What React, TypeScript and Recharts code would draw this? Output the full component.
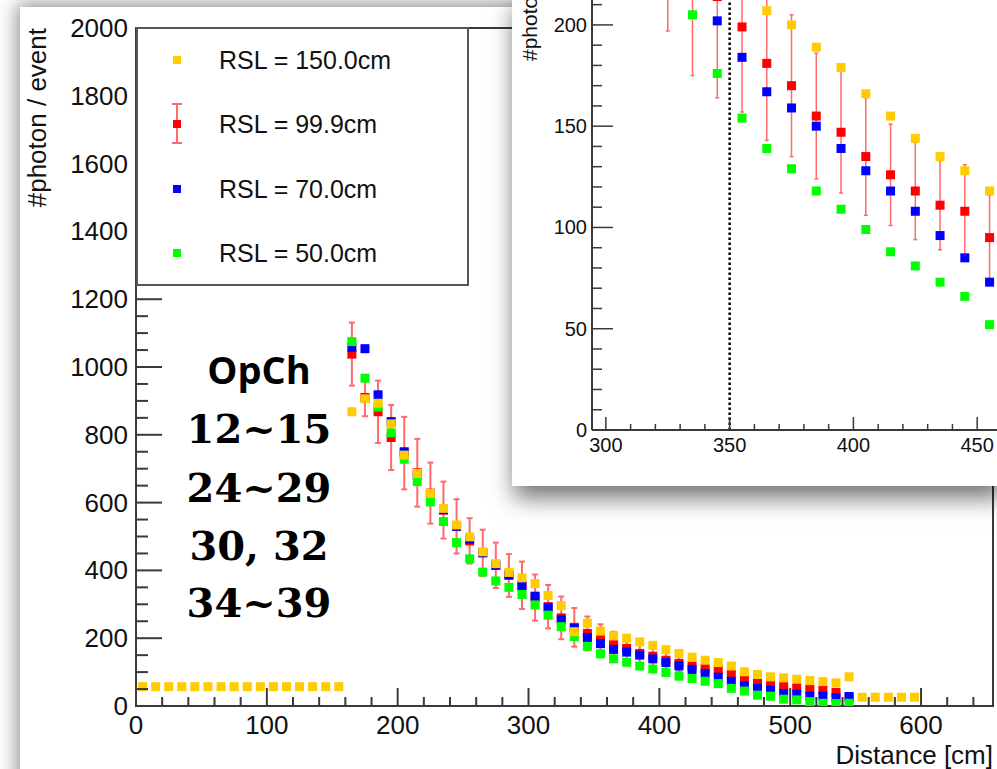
import React from 'react';
import { ScatterChart, Scatter, XAxis, YAxis, ErrorBar, ReferenceLine, ReferenceArea } from 'recharts';

// bin centres [cm] where all four RSL curves are filled
const distances = [165, 175, 185, 195, 205, 215, 225, 235, 245, 255, 265, 275, 285, 295, 305, 315, 325, 335, 345, 355,
  365, 375, 385, 395, 405, 415, 425, 435, 445, 455, 465, 475, 485, 495, 505, 515, 525, 535, 545];

const rsl150 = [868, 906, 893, 832, 740, 686, 627, 583, 534, 499, 455, 420, 394, 378, 361, 326, 296, 219, 244, 221,
  207, 200, 189, 179, 166, 155, 144, 135, 128, 118, 101, 93, 86, 83, 79, 75, 72, 68, 86];
const rsl100 = [1038, 910, 868, 792, 746, 688, 628, 578, 530, 487, 452, 415, 385, 356, 320, 293, 260, 232, 214, 199,
  181, 170, 155, 147, 135, 126, 118, 111, 108, 95, 81, 74, 67, 59, 54, 50, 47, 40, 24];
const rsl100Err = [93, 55, 92, 96, 107, 100, 90, 84, 80, 67, 68, 67, 63, 70, 68, 64, 63, 57, 50, 42,
  38, 35, 31, 30, 29, 25, 24, 22, 23, 21, 18, 16, 15, 14, 13, 12, 11, 10, 9];
const rsl70 = [1058, 1054, 918, 839, 750, 684, 624, 579, 530, 492, 452, 415, 388, 354, 324, 291, 254, 229, 202, 184,
  167, 159, 150, 139, 128, 118, 108, 96, 85, 73, 59, 52, 47, 37, 35, 29, 29, 24, 28];
const rsl50 = [1075, 967, 882, 806, 728, 662, 602, 544, 482, 434, 395, 369, 350, 329, 298, 268, 234, 205, 176, 154,
  139, 129, 118, 109, 99, 88, 81, 73, 66, 52, 44, 32, 29, 20, 18, 13, 8, 7, 8];

// extra RSL=150cm bins outside the main range
const rsl150NearX = [5, 15, 25, 35, 45, 55, 65, 75, 85, 95, 105, 115, 125, 135, 145, 155];
const rsl150Near = [57, 57, 57, 57, 57, 57, 57, 57, 57, 57, 57, 57, 57, 57, 57, 57];
const rsl150FarX = [555, 565, 575, 585, 595];
const rsl150Far = [26, 26, 26, 26, 26];

const mainXTicks = [0, 20, 40, 60, 80, 100, 120, 140, 160, 180, 200, 220, 240, 260, 280, 300, 320, 340, 360, 380,
  400, 420, 440, 460, 480, 500, 520, 540, 560, 580, 600, 620, 640];
const mainYTicks = [0, 50, 100, 150, 200, 250, 300, 350, 400, 450, 500, 550, 600, 650, 700, 750, 800, 850, 900, 950,
  1000, 1050, 1100, 1150, 1200, 1250, 1300, 1350, 1400, 1450, 1500, 1550, 1600, 1650, 1700, 1750, 1800, 1850, 1900, 1950, 2000];
const insetXTicks = [300, 310, 320, 330, 340, 350, 360, 370, 380, 390, 400, 410, 420, 430, 440, 450];
const insetYTicks = [0, 10, 20, 30, 40, 50, 60, 70, 80, 90, 100, 110, 120, 130, 140, 150, 160, 170, 180, 190, 200, 210];

const legendItems = ['RSL = 150.0cm', 'RSL = 99.9cm', 'RSL = 70.0cm', 'RSL = 50.0cm'];
const opchLines = ['12~15', '24~29', '30, 32', '34~39'];

const YELLOW = '#ffcc00';
const RED = '#ff0000';
const BLUE = '#0000ff';
const GREEN = '#00ff00';
const ERR = '#ff6b6b';
const AXIS = '#3a3a3a';
const FONT = '"Liberation Sans", Arial, Helvetica, sans-serif';

const yellowRows = [
  ...rsl150NearX.map((x, i) => ({ x, y: rsl150Near[i] })),
  ...distances.map((x, i) => ({ x, y: rsl150[i] })),
  ...rsl150FarX.map((x, i) => ({ x, y: rsl150Far[i] })),
];
const redRows = distances.map((x, i) => ({ x, y: rsl100[i], err: rsl100Err[i] }));
const blueRows = distances.map((x, i) => ({ x, y: rsl70[i] }));
const greenRows = distances.map((x, i) => ({ x, y: rsl50[i] }));

const square = (color: string, size: number) => (p: any) =>
  <rect x={p.cx - size / 2} y={p.cy - size / 2} width={size} height={size} fill={color} />;

const MainXTick = ({ x, y, payload }: any) => {
  const major = payload.value % 100 === 0;
  return (
    <g>
      <line x1={x} x2={x} y1={y} y2={y - (major ? 18 : 9)} stroke={AXIS} strokeWidth={2} />
      {major && (
        <text x={x} y={y + 28} textAnchor="middle" fontSize={26} fontFamily={FONT} fill="#111">{payload.value}</text>
      )}
    </g>
  );
};

const MainYTick = ({ x, y, payload }: any) => {
  const major = payload.value % 200 === 0;
  return (
    <g>
      <line x1={x} x2={x + (major ? 26 : 12)} y1={y} y2={y} stroke={AXIS} strokeWidth={2} />
      {major && (
        <text x={x - 8} y={y + 9} textAnchor="end" fontSize={26} fontFamily={FONT} fill="#111">{payload.value}</text>
      )}
    </g>
  );
};

const InsetXTick = ({ x, y, payload }: any) => {
  const major = payload.value % 50 === 0;
  return (
    <g>
      <line x1={x} x2={x} y1={y} y2={y - (major ? 13 : 6)} stroke={AXIS} strokeWidth={1.5} />
      {major && (
        <text x={x} y={y + 22} textAnchor="middle" fontSize={20} fontFamily={FONT} fill="#111">{payload.value}</text>
      )}
    </g>
  );
};

const InsetYTick = ({ x, y, payload }: any) => {
  const major = payload.value % 50 === 0;
  return (
    <g>
      <line x1={x} x2={x + (major ? 21 : 10)} y1={y} y2={y} stroke={AXIS} strokeWidth={1.5} />
      {major && (
        <text x={x - 5} y={y + 7} textAnchor="end" fontSize={20} fontFamily={FONT} fill="#111">{payload.value}</text>
      )}
    </g>
  );
};

const Legend = () => (
  <div style={{ position: 'absolute', left: 136, top: 27, width: 333, height: 259, boxSizing: 'border-box',
    border: '2px solid #555', background: '#fff' }}>
    <svg width={329} height={255}>
      {legendItems.map((label, i) => {
        const cy = [31, 95, 160, 224][i];
        const color = [YELLOW, RED, BLUE, GREEN][i];
        return (
          <g key={label}>
            {i === 1 && (
              <g stroke={ERR} strokeWidth={2}>
                <line x1={39} x2={39} y1={cy - 20} y2={cy + 19} />
                <line x1={34} x2={44} y1={cy - 20} y2={cy - 20} />
                <line x1={34} x2={44} y1={cy + 19} y2={cy + 19} />
              </g>
            )}
            <rect x={35} y={cy - 4} width={8} height={8} fill={color} />
            <text x={81} y={cy + 9} fontSize={25} fontFamily={FONT} fill="#111">{label}</text>
          </g>
        );
      })}
    </svg>
  </div>
);

const MainChart = () => (
  <div style={{ position: 'absolute', left: 0, top: 0 }}>
    <ScatterChart width={997} height={769} margin={{ top: 28, right: 4, bottom: 23, left: 76 }}>
      <XAxis type="number" dataKey="x" domain={[0, 655]} ticks={mainXTicks} interval={0} allowDataOverflow
        height={40} tickSize={0} tickMargin={0} tick={<MainXTick />} axisLine={{ stroke: AXIS, strokeWidth: 2 }} />
      <YAxis type="number" dataKey="y" domain={[0, 2000]} ticks={mainYTicks} interval={0} allowDataOverflow
        width={60} tickSize={0} tickMargin={0} tick={<MainYTick />} axisLine={{ stroke: AXIS, strokeWidth: 2 }} />
      <ReferenceArea x1={0} x2={655} y1={0} y2={2000} fill="none" stroke={AXIS} strokeWidth={2} ifOverflow="visible" />
      <Scatter data={redRows} shape={square(RED, 9)} isAnimationActive={false}>
        <ErrorBar dataKey="err" direction="y" width={3} stroke={ERR} strokeWidth={2} isAnimationActive={false} />
      </Scatter>
      <Scatter data={blueRows} shape={square(BLUE, 9)} isAnimationActive={false} />
      <Scatter data={greenRows} shape={square(GREEN, 9)} isAnimationActive={false} />
      <Scatter data={yellowRows} shape={square(YELLOW, 9)} isAnimationActive={false} />
    </ScatterChart>
  </div>
);

const InsetChart = () => (
  <div style={{ position: 'absolute', left: 512, top: 0, width: 485, height: 486, background: '#fff',
    boxShadow: '4px 10px 22px 2px rgba(0,0,0,0.55)' }}>
    <div style={{ position: 'absolute', left: 0, top: 0 }}>
      <ScatterChart width={485} height={486} margin={{ top: 0, right: 0, bottom: 26, left: 30 }}>
        <XAxis type="number" dataKey="x" domain={[294.4, 458]} ticks={insetXTicks} interval={0} allowDataOverflow
          height={30} tickSize={0} tickMargin={0} tick={<InsetXTick />} axisLine={{ stroke: AXIS, strokeWidth: 2 }} />
        <YAxis type="number" dataKey="y" domain={[0, 212.3]} ticks={insetYTicks} interval={0} allowDataOverflow
          width={50} tickSize={0} tickMargin={0} tick={<InsetYTick />} axisLine={{ stroke: AXIS, strokeWidth: 2 }} />
        <ReferenceLine x={350} stroke="#000" strokeWidth={2.5} strokeDasharray="2.5 2.5" />
        <Scatter data={redRows} shape={square(RED, 9)} isAnimationActive={false}>
          <ErrorBar dataKey="err" direction="y" width={2} stroke={ERR} strokeWidth={1.5} isAnimationActive={false} />
        </Scatter>
        <Scatter data={blueRows} shape={square(BLUE, 9)} isAnimationActive={false} />
        <Scatter data={greenRows} shape={square(GREEN, 9)} isAnimationActive={false} />
        <Scatter data={yellowRows} shape={square(YELLOW, 9)} isAnimationActive={false} />
      </ScatterChart>
    </div>
    <svg width={60} height={120} style={{ position: 'absolute', left: 0, top: 0 }}>
      <text transform="translate(25,61) rotate(-90)" fontSize={21} fontFamily={FONT} fill="#111">#photon / event</text>
    </svg>
  </div>
);

export default function App() {
  return (
    <div style={{ position: 'absolute', left: 0, top: 0, width: 997, height: 769, overflow: 'hidden', background: '#fff' }}>
      <div style={{ position: 'absolute', left: 20, top: 7, width: 1010, height: 800, background: '#fff',
        boxShadow: '0 0 18px 3px rgba(0,0,0,0.45)' }} />
      <MainChart />
      <svg width={997} height={769} style={{ position: 'absolute', left: 0, top: 0, pointerEvents: 'none' }}>
        <text transform="translate(46,28) rotate(-90)" textAnchor="end" fontSize={26} fontFamily={FONT} fill="#111">
          #photon / event
        </text>
        <text x={993} y={764} textAnchor="end" fontSize={26} fontFamily={FONT} fill="#111">Distance [cm]</text>
        <text x={259} y={384} textAnchor="middle" fontSize={38} fontWeight="bold" fontFamily='"Open Sans", sans-serif' fill="#000">
          OpCh
        </text>
        {opchLines.map((line, i) => (
          <text key={line} x={259} y={[443, 502, 560, 617][i]} textAnchor="middle" fontSize={40} fontWeight="bold"
            fontFamily='"DejaVu Serif", serif' fill="#000">{line}</text>
        ))}
      </svg>
      <Legend />
      <InsetChart />
    </div>
  );
}
